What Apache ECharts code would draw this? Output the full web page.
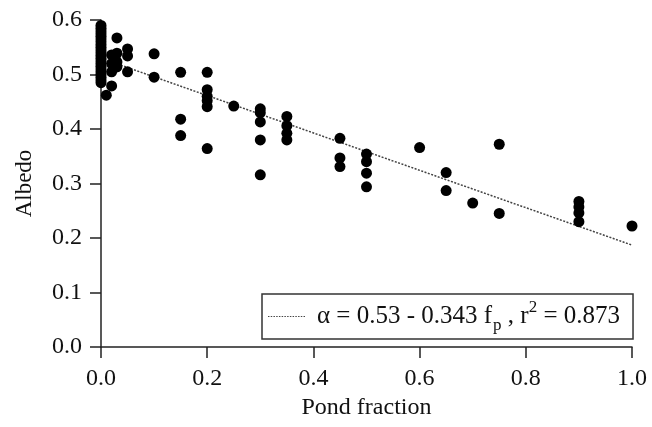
<!DOCTYPE html>
<html>
<head>
    <meta charset="UTF-8">
    <title>Albedo vs pond fraction</title>
    <script src="https://cdn.jsdelivr.net/npm/echarts@6/dist/echarts.min.js"></script>
    <style>
        html, body { margin: 0; padding: 0; background: #fff; }
        #main { width: 652px; height: 427px; }
    </style>
</head>
<body>
<div id="main"></div>
<script type="text/javascript">
    // pond fraction (x) and albedo (y)
    var pondFraction = [
        0, 0, 0, 0, 0, 0, 0, 0, 0, 0, 0, 0, 0, 0, 0, 0, 0, 0, 0, 0, 0, 0,
        0.01, 0.02, 0.02, 0.02, 0.02, 0.025, 0.03, 0.03, 0.03, 0.03, 0.05, 0.05, 0.05,
        0.10, 0.10,
        0.15, 0.15, 0.15,
        0.20, 0.20, 0.20, 0.20, 0.20, 0.20,
        0.25,
        0.30, 0.30, 0.30, 0.30, 0.30,
        0.35, 0.35, 0.35, 0.35,
        0.45, 0.45, 0.45,
        0.50, 0.50, 0.50, 0.50,
        0.60,
        0.65, 0.65,
        0.70,
        0.75, 0.75,
        0.90, 0.90, 0.90, 0.90,
        1.00
    ];
    var albedo = [
        0.590, 0.585, 0.580, 0.575, 0.570, 0.565, 0.560, 0.555, 0.550, 0.545, 0.540,
        0.535, 0.530, 0.525, 0.520, 0.515, 0.510, 0.505, 0.500, 0.495, 0.490, 0.485,
        0.462, 0.536, 0.520, 0.505, 0.479, 0.512, 0.567, 0.539, 0.523, 0.514, 0.547, 0.534, 0.505,
        0.538, 0.495,
        0.504, 0.418, 0.388,
        0.504, 0.472, 0.460, 0.452, 0.441, 0.364,
        0.442,
        0.437, 0.430, 0.413, 0.380, 0.316,
        0.423, 0.406, 0.392, 0.380,
        0.383, 0.347, 0.331,
        0.354, 0.340, 0.319, 0.294,
        0.366,
        0.320, 0.287,
        0.264,
        0.372, 0.245,
        0.267, 0.257, 0.246, 0.230,
        0.222
    ];
    // ends of the fitted line  alpha = 0.53 - 0.343 fp
    var fitX = [0.0, 1.0];
    var fitY = [0.53, 0.187];
    var xTicks = [0.0, 0.2, 0.4, 0.6, 0.8, 1.0];
    var yTicks = [0.0, 0.1, 0.2, 0.3, 0.4, 0.5, 0.6];

    var points = pondFraction.map(function (x, i) { return [x, albedo[i]]; });
    var fitLine = fitX.map(function (x, i) { return [x, fitY[i]]; });

    var serif = '"Liberation Serif", "DejaVu Serif", serif';
    var axisColor = '#222';

    // dotted line sample for the legend box
    var dotIcon = 'path://';
    for (var k = 0; k < 14; k++) {
        dotIcon += 'M' + (k * 3) + ',0h1.6v1h-1.6z';
    }

    var myChart = echarts.init(document.getElementById('main'));
    var option = {
        animation: false,
        grid: {
            left: 101,
            right: 20,
            top: 20,
            bottom: 80
        },
        xAxis: {
            type: 'value',
            min: xTicks[0],
            max: xTicks[xTicks.length - 1],
            interval: 0.2,
            name: 'Pond fraction',
            nameLocation: 'middle',
            nameGap: 46,
            nameTextStyle: {fontFamily: serif, fontSize: 24, color: '#111'},
            axisLine: {lineStyle: {color: axisColor, width: 1.5}},
            axisTick: {inside: false, length: 11, lineStyle: {color: axisColor, width: 1.5}},
            axisLabel: {
                fontFamily: serif, fontSize: 24, color: '#111', margin: 20,
                formatter: function (v) { return v.toFixed(1); }
            },
            splitLine: {show: false}
        },
        yAxis: {
            type: 'value',
            min: yTicks[0],
            max: yTicks[yTicks.length - 1],
            interval: 0.1,
            name: 'Albedo',
            nameLocation: 'middle',
            nameGap: 65,
            nameTextStyle: {fontFamily: serif, fontSize: 23, color: '#111'},
            axisLine: {show: true, lineStyle: {color: axisColor, width: 1.5}},
            axisTick: {show: true, inside: false, length: 11, lineStyle: {color: axisColor, width: 1.5}},
            axisLabel: {
                fontFamily: serif, fontSize: 24, color: '#111', margin: 19,
                formatter: function (v) { return v.toFixed(1); }
            },
            splitLine: {show: false}
        },
        legend: {
            data: [{name: 'fit', icon: dotIcon}],
            left: 262,
            top: 294,
            orient: 'horizontal',
            backgroundColor: '#fff',
            borderColor: '#333',
            borderWidth: 1.5,
            borderRadius: 0,
            padding: [5, 13, 5, 6],
            itemWidth: 37,
            itemHeight: 1.5,
            itemGap: 0,
            itemStyle: {color: '#444'},
            formatter: function () {
                return '{a|α = 0.53 - 0.343 f}{s|p}{a| , r}{u|2}{a| = 0.873}';
            },
            textStyle: {
                fontFamily: serif,
                fontSize: 25,
                color: '#111',
                rich: {
                    a: {fontFamily: serif, fontSize: 25, color: '#111', lineHeight: 35, verticalAlign: 'middle'},
                    s: {fontFamily: serif, fontSize: 17, color: '#111', lineHeight: 35, verticalAlign: 'bottom', padding: [0, 0, 0, 1]},
                    u: {fontFamily: serif, fontSize: 17, color: '#111', lineHeight: 35, verticalAlign: 'top'}
                },
                padding: [0, 0, 0, 7]
            }
        },
        series: [
            {
                name: 'fit',
                type: 'line',
                data: fitLine,
                symbol: 'none',
                lineStyle: {color: '#444', width: 1.5, type: [2, 1.5]},
                itemStyle: {color: '#444'},
                z: 1
            },
            {
                name: 'data',
                type: 'scatter',
                data: points,
                symbol: 'circle',
                symbolSize: 11,
                itemStyle: {color: '#000', opacity: 1},
                z: 2
            }
        ]
    };
    myChart.setOption(option);
</script>
</body>
</html>
